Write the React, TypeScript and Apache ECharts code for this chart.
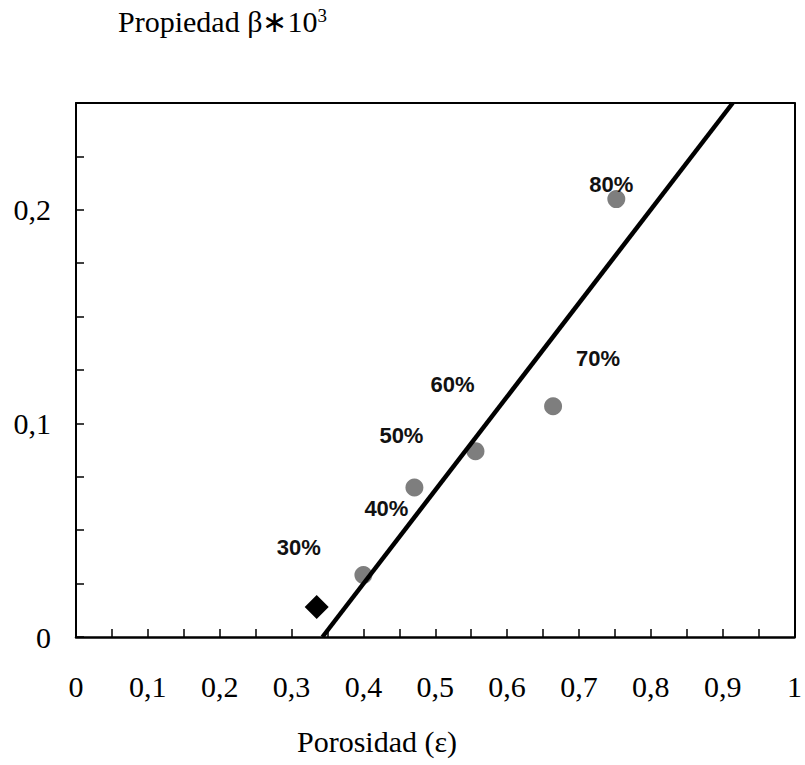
import React, { useEffect, useRef } from "react";
import * as echarts from "echarts";

// Porosity (ε) and property β·10³ for the measured samples
const sampleLabels = ["40%", "50%", "60%", "70%", "80%"];
const porosity = [0.4, 0.471, 0.556, 0.664, 0.752];
const beta = [0.029, 0.07, 0.087, 0.108, 0.205];

// Reference sample drawn as a diamond
const refLabels = ["30%"];
const refPorosity = [0.335];
const refBeta = [0.014];

// Fitted straight line (two end points)
const fitPorosity = [0.343, 0.914];
const fitBeta = [0, 0.25];

// Label placement relative to each marker (px)
const sampleLabelOffsets = [
  [23, -67],
  [-13, -52],
  [-23, -67],
  [45, -48],
  [-5, -15],
];
const refLabelOffsets = [[-18, -60]];

const SERIF = "'Liberation Serif', 'Times New Roman', serif";
const SANS = "'Liberation Sans', Arial, sans-serif";

function fmt(v: number): string {
  if (Math.abs(v) < 1e-9) return "0";
  if (Math.abs(v - 1) < 1e-9) return "1";
  return v.toFixed(1).replace(".", ",");
}

export default function App() {
  const ref = useRef<HTMLDivElement>(null);

  useEffect(() => {
    if (!ref.current) return;
    const chart = echarts.init(ref.current, undefined, { renderer: "svg" });

    const labelStyle = {
      show: true,
      position: "inside" as const,
      fontFamily: SANS,
      fontSize: 22,
      fontWeight: "bold" as const,
      color: "#111",
      opacity: 1,
    };

    chart.setOption({
      animation: false,
      backgroundColor: "#fff",
      grid: { left: 76, right: 9, top: 103, bottom: 128, containLabel: false },
      xAxis: [
        {
          type: "value",
          min: 0,
          max: 1,
          interval: 0.1,
          axisLine: { show: true, onZero: false, lineStyle: { color: "#000", width: 2.5 } },
          axisTick: { show: true, inside: true, length: 8, lineStyle: { color: "#000", width: 1.5 } },
          minorTick: { show: true, splitNumber: 2, length: 8, lineStyle: { color: "#000", width: 1.5 } },
          splitLine: { show: false },
          axisLabel: {
            margin: 34,
            fontFamily: SERIF,
            fontSize: 30,
            color: "#000",
            formatter: (v: number) => fmt(v),
          },
        },
        {
          type: "value",
          position: "top",
          min: 0,
          max: 1,
          axisLine: { show: true, onZero: false, lineStyle: { color: "#000", width: 2 } },
          axisTick: { show: false },
          axisLabel: { show: false },
          splitLine: { show: false },
        },
      ],
      yAxis: [
        {
          type: "value",
          min: 0,
          max: 0.25,
          interval: 0.025,
          axisLine: { show: true, onZero: false, lineStyle: { color: "#000", width: 2 } },
          axisTick: { show: true, inside: true, length: 8, lineStyle: { color: "#000", width: 1.5 } },
          splitLine: { show: false },
          axisLabel: {
            margin: 25,
            fontFamily: SERIF,
            fontSize: 30,
            color: "#000",
            formatter: (v: number) =>
              Math.abs(v * 10 - Math.round(v * 10)) < 1e-6 ? fmt(v) : "",
          },
        },
        {
          type: "value",
          position: "right",
          min: 0,
          max: 0.25,
          axisLine: { show: true, onZero: false, lineStyle: { color: "#000", width: 2 } },
          axisTick: { show: false },
          axisLabel: { show: false },
          splitLine: { show: false },
        },
      ],
      series: [
        {
          type: "scatter",
          symbol: "circle",
          symbolSize: 18,
          itemStyle: { color: "#7e7e7e", opacity: 1 },
          data: porosity.map((x, i) => ({
            value: [x, beta[i]],
            name: sampleLabels[i],
            label: { ...labelStyle, offset: sampleLabelOffsets[i], formatter: sampleLabels[i] },
          })),
          z: 2,
        },
        {
          type: "scatter",
          symbol: "diamond",
          symbolSize: 24,
          itemStyle: { color: "#000", opacity: 1 },
          data: refPorosity.map((x, i) => ({
            value: [x, refBeta[i]],
            name: refLabels[i],
            label: { ...labelStyle, offset: refLabelOffsets[i], formatter: refLabels[i] },
          })),
          z: 2,
        },
        {
          type: "line",
          symbol: "none",
          clip: true,
          lineStyle: { color: "#000", width: 4.5 },
          data: fitPorosity.map((x, i) => [x, fitBeta[i]]),
          z: 3,
        },
      ],
      graphic: [
        {
          type: "text",
          left: 118,
          top: 6,
          style: {
            text: "Propiedad β∗10{sup|3}",
            fontFamily: SERIF,
            fontSize: 30,
            fill: "#000",
            rich: {
              sup: { fontFamily: SERIF, fontSize: 19, verticalAlign: "top", fill: "#000" },
            },
          },
        },
        {
          type: "text",
          left: 297,
          top: 726,
          style: {
            text: "Porosidad (ε)",
            fontFamily: SERIF,
            fontSize: 30,
            fill: "#000",
          },
        },
      ],
    });

    return () => chart.dispose();
  }, []);

  return (
    <div
      ref={ref}
      style={{ position: "absolute", left: 0, top: 0, width: 805, height: 765 }}
    />
  );
}
